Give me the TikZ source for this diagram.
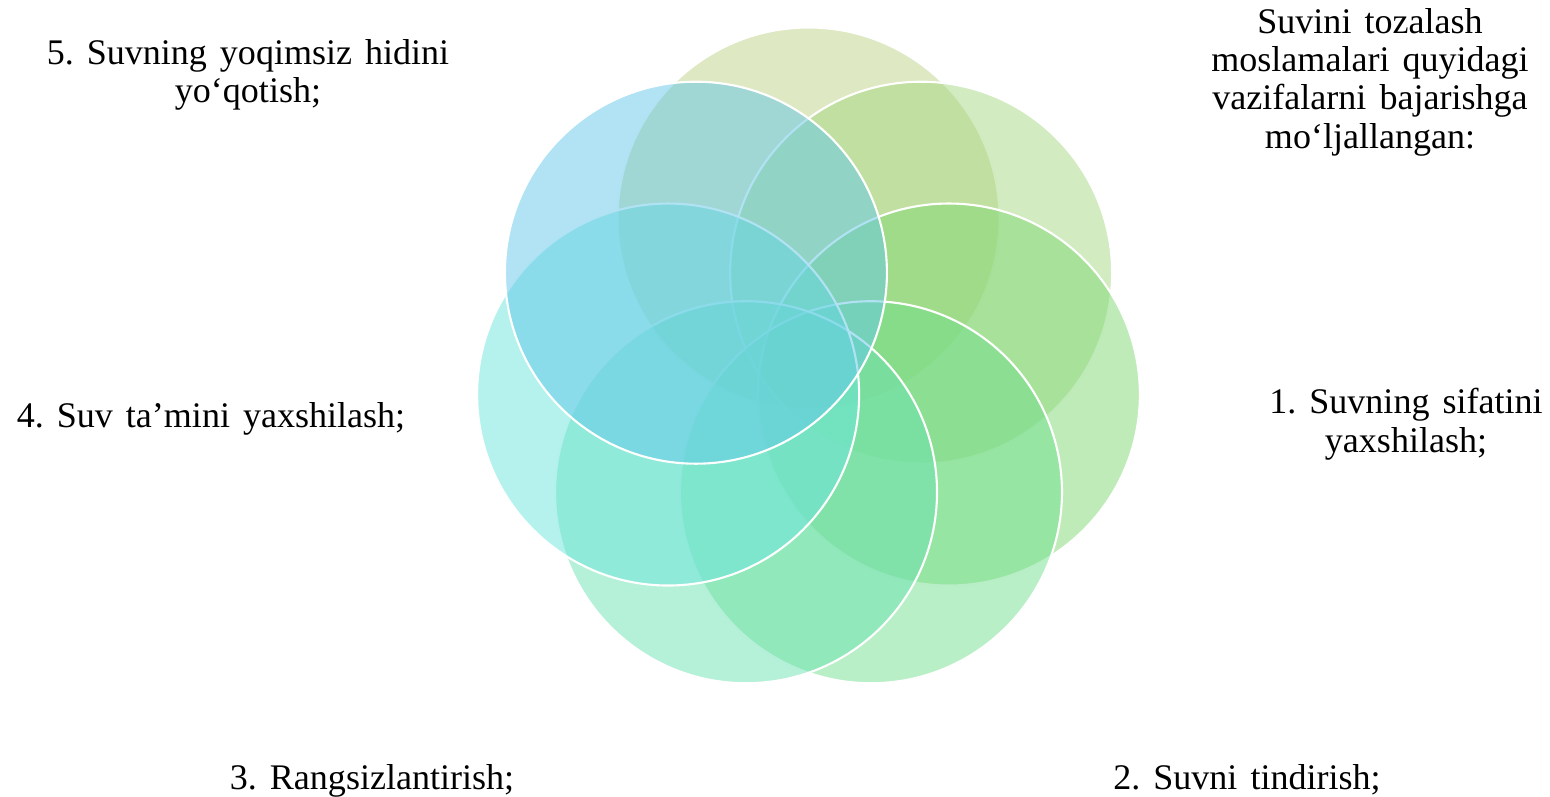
\documentclass[tikz,border=0pt]{standalone}
\usepackage{fontspec}
\setmainfont{Liberation Serif}[WordSpace=1.45]
\frenchspacing
\usetikzlibrary{calc}
\definecolor{PetalOlive}{HTML}{BDD185}
\definecolor{PetalLime}{HTML}{A5D781}
\definecolor{PetalGreen}{HTML}{7FD773}
\definecolor{PetalMint}{HTML}{71DF8D}
\definecolor{PetalSea}{HTML}{6BE1B1}
\definecolor{PetalAqua}{HTML}{6BE5DD}
\definecolor{PetalSky}{HTML}{63C7E9}
\begin{document}
\begin{tikzpicture}[every node/.style={font=\fontsize{20.5}{21.8}\selectfont},
  petal/.style={circle,draw=white,line width=1.2pt,fill opacity=0.5,minimum size=7.64cm,inner sep=0pt},
  lbl/.style={align=center,inner sep=0pt}]
  \useasboundingbox (0,0) rectangle (31,15.94);
  \coordinate (m) at (16.17,8.69);
  % seven petals, clockwise from the top
  \foreach \i/\c in {1/PetalOlive,2/PetalLime,3/PetalGreen,4/PetalMint,5/PetalSea,6/PetalAqua,7/PetalSky}{
    \node[petal,fill=\c] (p\i) at ($(m)+({90-(\i-1)*360/7}:2.88)$) {};}
  % labels
  \node[lbl,anchor=north] (head) at (27.4,15.78) {Suvini tozalash\\moslamalari quyidagi\\vazifalarni bajarishga\\mo‘ljallangan:};
  \node[lbl,anchor=north] (t1) at (28.12,8.18) {1. Suvning sifatini\\yaxshilash;};
  \node[lbl,anchor=base] (t2) at (24.94,0.14) {2. Suvni tindirish;};
  \node[lbl,anchor=base] (t3) at (7.44,0.14) {3. Rangsizlantirish;};
  \node[lbl,anchor=base] (t4) at (4.22,7.38) {4. Suv ta’mini yaxshilash;};
  \node[lbl,anchor=north] (t5) at (4.96,15.16) {5. Suvning yoqimsiz hidini\\yo‘qotish;};
\end{tikzpicture}
\end{document}
